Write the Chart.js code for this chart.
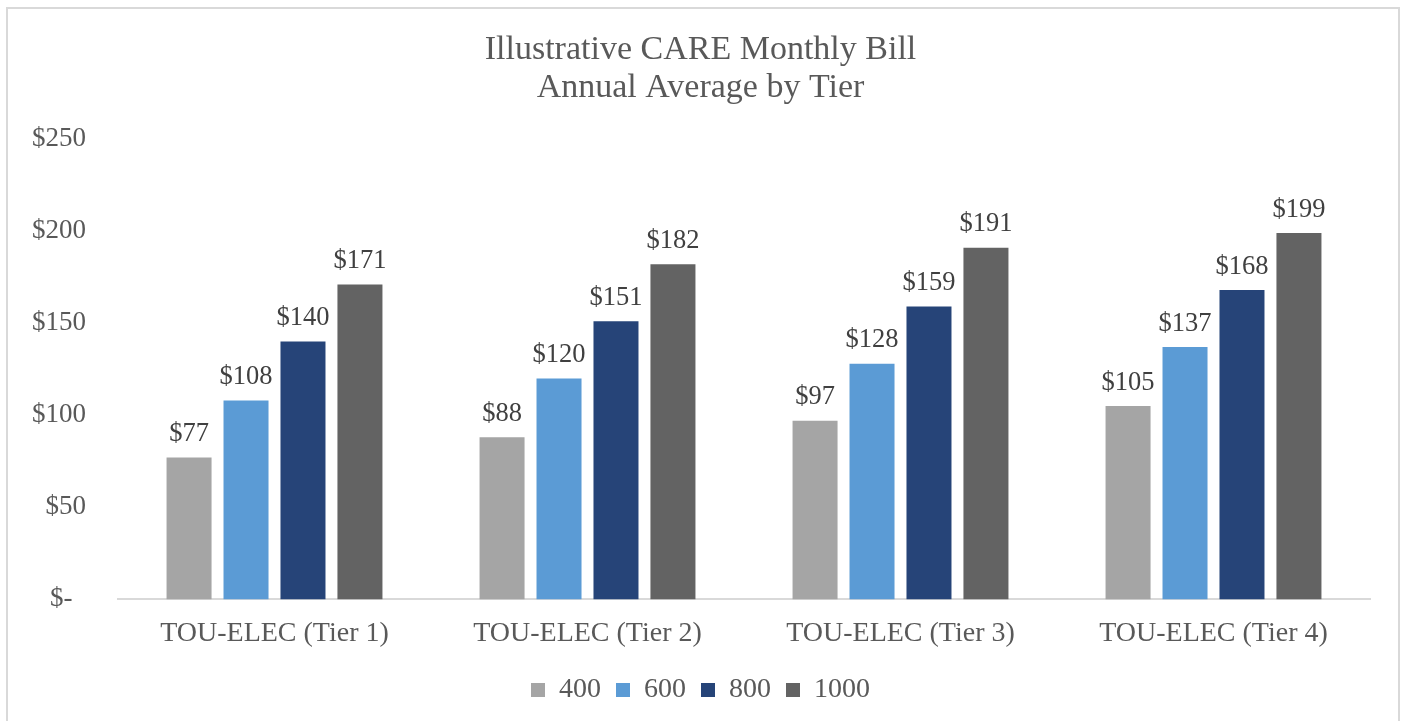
<!DOCTYPE html>
<html>
<head>
<meta charset="utf-8">
<script src="https://cdn.jsdelivr.net/npm/chart.js@4/dist/chart.umd.min.js"></script>
<style>
    body { margin: 0; background: #fff; }
    #wrap { position: absolute; left: 0; top: 0; width: 1401px; height: 721px; }
    #frame { position: absolute; left: 6px; top: 7px; width: 1390px; height: 720px;
             border: 2px solid #d9d9d9; border-bottom: none; pointer-events: none; }
</style>
</head>
<body>
<div id="wrap"><canvas id="bill_chart"></canvas></div>
<div id="frame"></div>
<script>
let tiers = ['TOU-ELEC (Tier 1)', 'TOU-ELEC (Tier 2)', 'TOU-ELEC (Tier 3)', 'TOU-ELEC (Tier 4)']
let usage400 = [77, 88, 97, 105]
let usage600 = [108, 120, 128, 137]
let usage800 = [140, 151, 159, 168]
let usage1000 = [171, 182, 191, 199]
let yTicks = [0, 50, 100, 150, 200, 250]

let serif = "'Liberation Serif', 'Times New Roman', serif"
let textcolor = '#595959'

// draws the $ value above every bar
const valueLabels = {
    id: 'valueLabels',
    afterDatasetsDraw(chart) {
        let ctx = chart.ctx
        ctx.save()
        ctx.font = `26.5px ${serif}`
        ctx.fillStyle = '#404040'
        ctx.textAlign = 'center'
        ctx.textBaseline = 'bottom'
        chart.data.datasets.forEach((ds, i) => {
            chart.getDatasetMeta(i).data.forEach((bar, j) => {
                ctx.fillText('$' + ds.data[j], bar.x, bar.y - 10)
            })
        })
        ctx.restore()
    }
}

function make_set(label, data, color) {
    return {
        label: label,
        data: data,
        backgroundColor: color,
        borderWidth: 0,
        categoryPercentage: 0.728,
        barPercentage: 0.79
    }
}

let ctx = document.getElementById('bill_chart').getContext('2d')
new Chart(ctx, {
    type: 'bar',
    data: {
        labels: tiers,
        datasets: [
            make_set('400', usage400, '#a5a5a5'),
            make_set('600', usage600, '#5b9bd5'),
            make_set('800', usage800, '#264478'),
            make_set('1000', usage1000, '#636363')
        ]
    },
    options: {
        responsive: true,
        maintainAspectRatio: false,
        animation: false,
        layout: { padding: { top: 31, left: 31, right: 31, bottom: 7 } },
        scales: {
            x: {
                grid: { display: false, drawTicks: false },
                border: { display: true, color: '#d9d9d9', width: 2 },
                ticks: { color: textcolor, padding: 17, font: { family: serif, size: 28 } },
                afterFit: (axis) => { axis.height -= 6 }
            },
            y: {
                min: 0,
                max: 250,
                afterBuildTicks: (axis) => { axis.ticks = yTicks.map(v => ({ value: v })) },
                grid: { display: false, drawTicks: false },
                border: { display: false },
                ticks: {
                    color: textcolor,
                    padding: 32,
                    font: { family: serif, size: 27 },
                    callback: (v) => v === 0 ? '$-  ' : '$' + v
                },
                afterFit: (axis) => { axis.width = 87 }
            }
        },
        plugins: {
            title: {
                display: true,
                text: ['Illustrative CARE Monthly Bill', 'Annual Average by Tier'],
                color: textcolor,
                font: { family: serif, size: 34, weight: 'normal', lineHeight: 1.118 },
                padding: { top: 0, bottom: 32 }
            },
            legend: {
                position: 'bottom',
                labels: {
                    color: textcolor,
                    boxWidth: 14,
                    boxHeight: 14,
                    padding: 15,
                    font: { family: serif, size: 28 }
                }
            },
            tooltip: { enabled: false }
        }
    },
    plugins: [valueLabels]
})
</script>
</body>
</html>
